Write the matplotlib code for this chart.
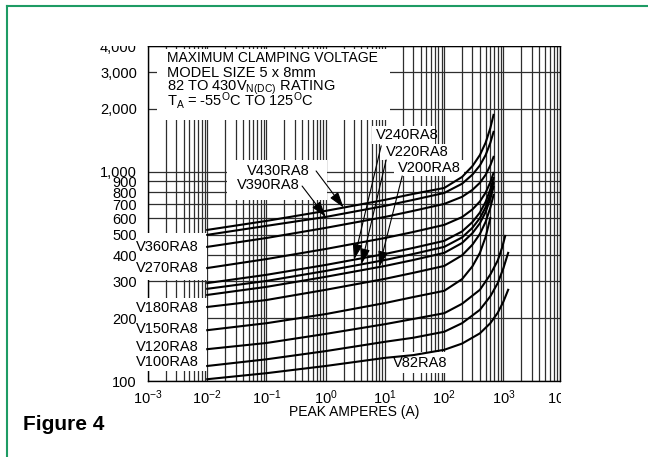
import matplotlib
matplotlib.use('Agg')
import matplotlib.pyplot as plt
from matplotlib.patches import Rectangle
from matplotlib.lines import Line2D
from matplotlib.ticker import NullFormatter, NullLocator

plt.rcParams['font.family'] = ['Liberation Sans', 'DejaVu Sans']
plt.rcParams['mathtext.fontset'] = 'custom'
plt.rcParams['mathtext.rm'] = 'Liberation Sans'

# peak amperes (A) / max clamping voltage (V)
amps_top = [0.01, 0.1, 1, 10, 30, 100, 200, 300, 400, 500, 600, 680]
amps_v150 = [0.01, 0.1, 1, 10, 30, 100, 200, 300, 400, 500, 600]
amps_v120 = [0.01, 0.1, 1, 10, 30, 100, 200, 400, 600, 800, 950, 1070]
amps_low = [0.01, 0.1, 1, 10, 30, 100, 200, 400, 600, 800, 1000, 1200]

v430 = [528, 583, 651, 735, 785, 838, 946, 1067, 1204, 1380, 1621, 1874]
v390 = [500, 552, 609, 688, 735, 793, 878, 971, 1074, 1204, 1377, 1554]
v360 = [438, 483, 540, 609, 651, 703, 760, 821, 887, 969, 1075, 1180]
v270 = [347, 383, 428, 483, 516, 558, 608, 662, 722, 796, 892, 989]
v240 = [294, 322, 359, 405, 433, 468, 519, 576, 639, 719, 826, 936]
v220 = [276, 301, 336, 379, 405, 438, 486, 541, 601, 678, 780, 886]
v200 = [258, 282, 315, 355, 379, 410, 457, 510, 568, 643, 744, 848]
v180 = [226, 244, 273, 308, 329, 355, 399, 449, 505, 577, 674, 776]
v150 = [175, 189, 209, 236, 252, 270, 307, 354, 410, 489, 602]
v120 = [142, 152, 168, 187, 198, 211, 234, 273, 323, 377, 435, 494]
v100 = [118, 127, 139, 154, 161, 172, 189, 219, 254, 294, 347, 410]
v82 = [102, 109, 118, 129, 133, 141, 151, 169, 189, 212, 240, 273]

curves = [
    (amps_top, v430), (amps_top, v390), (amps_top, v360), (amps_top, v270),
    (amps_top, v240), (amps_top, v220), (amps_top, v200), (amps_top, v180),
    (amps_v150, v150), (amps_v120, v120), (amps_low, v100), (amps_low, v82),
]

x_ticks = [1e-3, 1e-2, 1e-1, 1, 10, 100, 1000]
x_labels = [r'$\mathregular{10^{-3}}$', r'$\mathregular{10^{-2}}$', r'$\mathregular{10^{-1}}$',
            r'$\mathregular{10^{0}}$', r'$\mathregular{10^{1}}$', r'$\mathregular{10^{2}}$',
            r'$\mathregular{10^{3}}$']
y_ticks = [100, 200, 300, 400, 500, 600, 700, 800, 900, 1000, 2000, 3000, 4000]
y_labels = ['100', '200', '300', '400', '500', '600', '700', '800', '900',
            '1,000', '2,000', '3,000', '4,000']

# arrow labels: text, tail (axes frac), tip (A, V)
arrow_labels = [
    ('V430RA8', (0.408, 0.627), (2.0, 675)),
    ('V390RA8', (0.374, 0.582), (1.0, 609)),
    ('V240RA8', (0.566, 0.702), (3.0, 380)),
    ('V220RA8', (0.578, 0.660), (4.0, 361)),
    ('V200RA8', (0.617, 0.612), (8.0, 351)),
]

fig = plt.figure(figsize=(6.48, 4.57), dpi=100)
ax = fig.add_axes([0.2284, 0.1663, 0.6358, 0.7330])
ax.set_xscale('log')
ax.set_yscale('log')
ax.set_xlim(1e-3, 7963)
ax.set_ylim(100, 4000)

ax.set_xticks(x_ticks, x_labels)
ax.set_xticks([k * 10.0 ** n for n in range(-3, 4) for k in range(2, 10)], minor=True)
ax.xaxis.set_minor_formatter(NullFormatter())
ax.set_yticks(y_ticks, y_labels)
ax.yaxis.set_minor_locator(NullLocator())
ax.grid(True, which='both', color='#2e2e2e', lw=0.9)
ax.set_axisbelow(True)
ax.tick_params(which='both', length=0)
ax.tick_params(axis='y', pad=8, labelsize=10.5)
ax.tick_params(axis='x', pad=5, labelsize=10.5)
for s in ax.spines.values():
    s.set_linewidth(1.0)

# white label areas that hide the grid
masks = [
    (0.0218, 0.7791, 0.5656, 0.2119),
    (0.1917, 0.5403, 0.2428, 0.1194),
    (-0.0243, 0.3015, 0.1675, 0.1403),
    (-0.0243, 0.0299, 0.1675, 0.2179),
    (0.5850, 0.0239, 0.1674, 0.0627),
    (0.5437, 0.7075, 0.1529, 0.0537),
    (0.5631, 0.6597, 0.1675, 0.0478),
    (0.5971, 0.6119, 0.1699, 0.0478),
]
for x0, y0, w, h in masks:
    ax.add_patch(Rectangle((x0, y0), w, h, transform=ax.transAxes, facecolor='white',
                           edgecolor='none', zorder=3, clip_on=False))

for amps, volts in curves:
    ax.plot(amps, volts, color='black', lw=1.5, zorder=4)

fs = 10.5
tx = 0.0461
ax.text(tx, 0.9522, 'MAXIMUM CLAMPING VOLTAGE', transform=ax.transAxes, fontsize=10.0,
        va='baseline', zorder=5)
ax.text(tx, 0.9075, 'MODEL SIZE 5 x 8mm', transform=ax.transAxes, fontsize=fs, va='baseline', zorder=5)
ax.text(tx, 0.8657, r'82 TO 430V$\mathregular{_{N(DC)}}$ RATING', transform=ax.transAxes,
        fontsize=fs, va='baseline', zorder=5)
ax.text(tx, 0.8209, r'T$\mathregular{_A}$ = -55$\mathregular{^O}$C TO 125$\mathregular{^O}$C',
        transform=ax.transAxes, fontsize=fs, va='baseline', zorder=5)

ax.text(0.3932, 0.6269, 'V430RA8', transform=ax.transAxes, fontsize=fs, ha='right', va='center', zorder=5)
ax.text(0.3689, 0.5851, 'V390RA8', transform=ax.transAxes, fontsize=fs, ha='right', va='center', zorder=5)
ax.text(0.5534, 0.7343, 'V240RA8', transform=ax.transAxes, fontsize=fs, ha='left', va='center', zorder=5)
ax.text(0.5777, 0.6836, 'V220RA8', transform=ax.transAxes, fontsize=fs, ha='left', va='center', zorder=5)
ax.text(0.6068, 0.6358, 'V200RA8', transform=ax.transAxes, fontsize=fs, ha='left', va='center', zorder=5)
ax.text(0.5947, 0.0537, 'V82RA8', transform=ax.transAxes, fontsize=fs, ha='left', va='center', zorder=5)

left_labels = [('V360RA8', 0.4000), ('V270RA8', 0.3373), ('V180RA8', 0.2179),
               ('V150RA8', 0.1552), ('V120RA8', 0.1015), ('V100RA8', 0.0567)]
for txt, fy in left_labels:
    ax.text(0.1238, fy, txt, transform=ax.transAxes, fontsize=fs, ha='right', va='center', zorder=5)

for txt, tail, tip in arrow_labels:
    ax.annotate('', xy=tip, xycoords='data', xytext=tail, textcoords='axes fraction',
                arrowprops=dict(arrowstyle='-|>,head_length=0.8,head_width=0.25',
                                color='black', lw=0.8, shrinkA=0, shrinkB=0,
                                mutation_scale=12), zorder=5)

ax.text(0.9976, -0.021, r'$\mathregular{10^{4}}$', transform=ax.transAxes, fontsize=fs,
        ha='center', va='top', clip_on=False)
ax.set_xlabel('PEAK AMPERES (A)', fontsize=10, labelpad=-1)

# scan crop edges
fig.add_artist(Rectangle((561 / 648, 0.08), 0.2, 0.084, transform=fig.transFigure,
                         facecolor='white', edgecolor='none', zorder=10))
fig.add_artist(Rectangle((0.1, 1 - 45.5 / 457), 0.9, 0.075, transform=fig.transFigure,
                         facecolor='white', edgecolor='none', zorder=10))

green = '#1e9b64'
fig.add_artist(Line2D([7 / 648, 7 / 648], [0, 1 - 6 / 457], color=green, lw=1.5,
                      transform=fig.transFigure, zorder=11))
fig.add_artist(Line2D([7 / 648, 1], [1 - 6 / 457, 1 - 6 / 457], color=green, lw=1.5,
                      transform=fig.transFigure, zorder=11))

fig.text(23 / 648, 1 - 425 / 457, 'Figure 4', fontsize=15, fontweight='bold', ha='left', va='center')

fig.savefig('out.png', dpi=100)
